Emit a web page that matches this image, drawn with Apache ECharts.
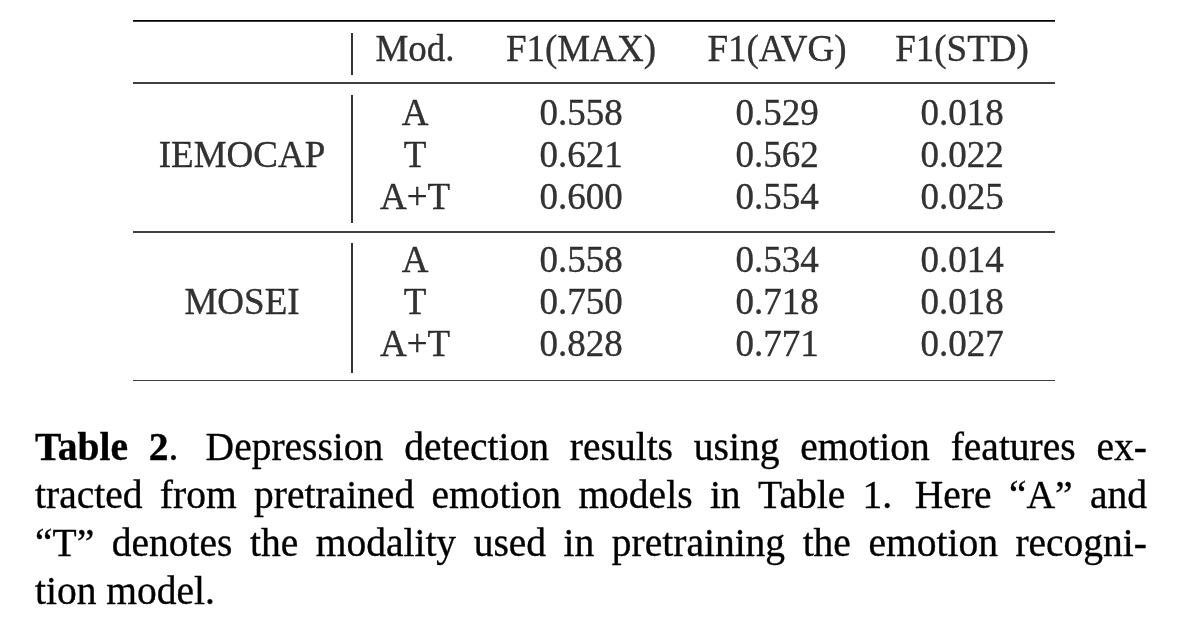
<!DOCTYPE html>
<html>
<head>
<meta charset="utf-8">
<script src="https://cdn.jsdelivr.net/npm/echarts@6/dist/echarts.min.js"></script>
<style>
  html, body { margin: 0; background: #fff; }
  #chart { width: 1182px; height: 620px; }
</style>
</head>
<body>
<div id="chart"></div>
<script>
// table content
const groups = ['IEMOCAP', 'MOSEI']
const modalities = ['A', 'T', 'A+T']
const headers = ['Mod.', 'F1(MAX)', 'F1(AVG)', 'F1(STD)']
const f1Max = [0.558, 0.621, 0.600, 0.558, 0.750, 0.828]
const f1Avg = [0.529, 0.562, 0.554, 0.534, 0.718, 0.771]
const f1Std = [0.018, 0.022, 0.025, 0.014, 0.018, 0.027]

// caption, one entry per printed line; [text, bold] runs make up a word
const captionLines = [
  [[['Table', 1]], [['2', 1], ['.', 0]], 'Depression', 'detection', 'results', 'using', 'emotion', 'features', 'ex-'],
  ['tracted', 'from', 'pretrained', 'emotion', 'models', 'in', 'Table', '1.', 'Here', '\u201cA\u201d', 'and'],
  ['\u201cT\u201d', 'denotes', 'the', 'modality', 'used', 'in', 'pretraining', 'the', 'emotion', 'recogni-'],
  ['tion', 'model.'],
]

// layout (px inside the table grid)
const FONT = '"Liberation Serif", "Times New Roman", serif'
const colX = [109, 282, 448, 644, 829]
const headerY = 31
const groupTop = [95, 242]
const rowStep = 42
const barX = 218.5

const cells = []
headers.forEach((h, i) => cells.push({ value: [colX[i + 1], headerY], name: h }))
groups.forEach((g, gi) => {
  cells.push({ value: [colX[0], groupTop[gi] + rowStep], name: g })
  modalities.forEach((m, i) => {
    const k = gi * modalities.length + i
    const y = groupTop[gi] + i * rowStep
    cells.push({ value: [colX[1], y], name: m })
    cells.push({ value: [colX[2], y], name: f1Max[k].toFixed(3) })
    cells.push({ value: [colX[3], y], name: f1Avg[k].toFixed(3) })
    cells.push({ value: [colX[4], y], name: f1Std[k].toFixed(3) })
  })
})

const rules = [
  { coords: [[0, 0], [922, 0]], lineStyle: { width: 2.6 } },
  { coords: [[0, 62.5], [922, 62.5]], lineStyle: { width: 1.5 } },
  { coords: [[0, 212], [922, 212]], lineStyle: { width: 1.5 } },
  { coords: [[0, 361.5], [922, 361.5]], lineStyle: { width: 2.6 } },
  { coords: [[barX, 13], [barX, 55]], lineStyle: { width: 1.6 } },
  { coords: [[barX, 75], [barX, 203]], lineStyle: { width: 1.6 } },
  { coords: [[barX, 223], [barX, 353]], lineStyle: { width: 1.6 } },
]

// justified caption, words placed one by one
const CAP_SIZE = 39.5
const ctx = document.createElement('canvas').getContext('2d')
function fontOf(bold) {
  return (bold ? 'bold ' : '') + CAP_SIZE + 'px ' + FONT
}
function runsOf(word) {
  return typeof word === 'string' ? [[word, 0]] : word
}
function widthOf(word) {
  return runsOf(word).reduce((s, [t, b]) => {
    ctx.font = fontOf(b)
    return s + ctx.measureText(t).width
  }, 0)
}

const capLeft = 35
const capRight = 1147
const capTop = 450
const capStep = 48
const caption = []
captionLines.forEach((line, li) => {
  const widths = line.map(widthOf)
  const last = li === captionLines.length - 1
  const gapW = line.slice(0, -1).map((w) => {
    const runs = runsOf(w)
    return runs[runs.length - 1][0].endsWith('.') ? 1.3 : 1
  })
  const total = widths.reduce((a, b) => a + b, 0)
  const unit = last ? CAP_SIZE * 0.25 : (capRight - capLeft - total) / gapW.reduce((a, b) => a + b, 0)
  let x = capLeft
  line.forEach((word, wi) => {
    runsOf(word).forEach(([t, b]) => {
      ctx.font = fontOf(b)
      caption.push({
        type: 'text',
        x,
        y: capTop + li * capStep,
        silent: true,
        style: {
          text: t,
          font: fontOf(b),
          fill: '#000',
          stroke: '#000',
          lineWidth: 0.35,
          textAlign: 'left',
          textVerticalAlign: 'middle',
          align: 'left',
          verticalAlign: 'middle',
        },
      })
      x += ctx.measureText(t).width
    })
    if (wi < gapW.length) x += unit * gapW[wi]
  })
})

const chart = echarts.init(document.getElementById('chart'))
chart.setOption({
  animation: false,
  backgroundColor: '#fff',
  grid: { left: 133, top: 20, width: 922, height: 361 },
  xAxis: { type: 'value', min: 0, max: 922, show: false },
  yAxis: { type: 'value', min: 0, max: 361, inverse: true, show: false },
  graphic: caption,
  series: [
    {
      type: 'lines',
      coordinateSystem: 'cartesian2d',
      silent: true,
      lineStyle: { color: '#000', opacity: 1 },
      data: rules,
    },
    {
      type: 'scatter',
      silent: true,
      symbol: 'rect',
      symbolSize: 1,
      itemStyle: { color: 'transparent' },
      label: {
        show: true,
        position: 'inside',
        formatter: '{b}',
        color: '#000',
        fontFamily: FONT,
        fontSize: 37,
        textBorderColor: '#000',
        textBorderWidth: 0.35,
      },
      data: cells,
    },
  ],
})
</script>
</body>
</html>
